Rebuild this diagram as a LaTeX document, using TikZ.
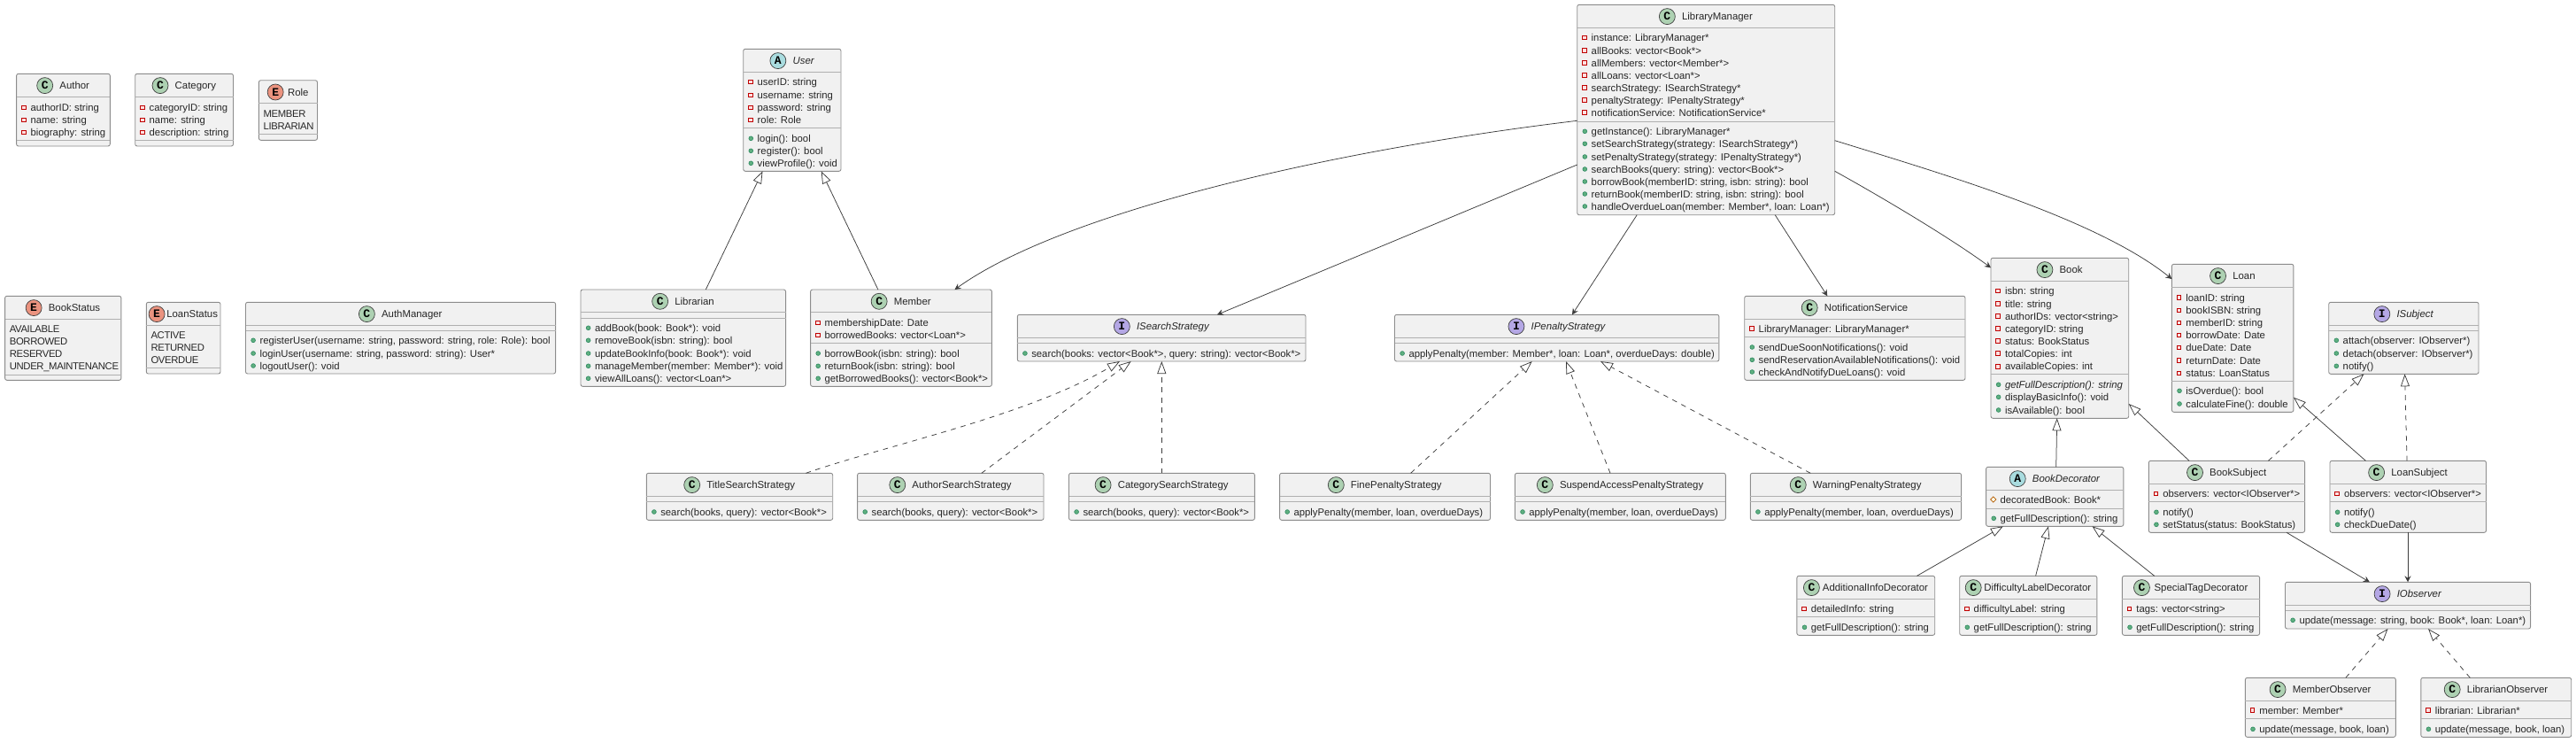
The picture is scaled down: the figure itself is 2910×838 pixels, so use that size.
\documentclass[tikz,border=0pt]{standalone}
\usepackage{fontspec}
\setmainfont{Liberation Sans}[Ligatures=NoCommon]
\newfontfamily\BadgeFont{Liberation Mono}
\newfontfamily\CapsFont{Liberation Sans}[LetterSpace=-3]
\usepackage{xcolor}
\definecolor{BoxFill}{RGB}{241,241,241}
\definecolor{BoxLine}{RGB}{140,140,140}
\definecolor{SepLine}{RGB}{176,176,176}
\definecolor{EdgeCol}{RGB}{60,60,60}
\definecolor{BadgeC}{RGB}{173,209,178}
\definecolor{BadgeA}{RGB}{169,220,223}
\definecolor{BadgeI}{RGB}{180,167,229}
\definecolor{BadgeE}{RGB}{235,147,127}
\definecolor{PubFill}{RGB}{96,176,128}
\definecolor{PubLine}{RGB}{44,136,96}
\usepackage{tikz}
\usetikzlibrary{arrows.meta}
\usetikzlibrary{shapes.geometric}
\tikzstyle{ClassNode}=[rectangle,draw=BoxLine,fill=BoxFill,line width=.9pt,
rounded corners=2.2pt,anchor=north west,outer sep=0pt,inner sep=0pt]
\tikzstyle{BadgeNode}=[circle,draw=black!75,line width=.7pt,minimum size=18pt,
inner sep=0pt,font=\BadgeFont\bfseries\fontsize{13}{13}\selectfont]
\tikzstyle{TitleText}=[anchor=base,inner sep=0pt,text=black!85,
font=\fontsize{11.4}{13}\selectfont]
\tikzstyle{RowText}=[anchor=base west,inner sep=0pt,yshift=-4pt,text=black!85,
font=\fontsize{11.3}{13}\selectfont]
\tikzstyle{EnumText}=[RowText,font=\CapsFont\fontsize{11.3}{13}\selectfont]
\tikzstyle{PrivMark}=[rectangle,draw=red!75!black,fill=red!12,line width=.7pt,
minimum size=4.6pt,inner sep=0pt]
\tikzstyle{PubMark}=[circle,draw=PubLine,fill=PubFill,
line width=.6pt,minimum size=4.8pt,inner sep=0pt]
\tikzstyle{ProtMark}=[diamond,draw=orange!70!black,fill=yellow!10,line width=.7pt,
minimum size=6.5pt,inner sep=0pt]
\tikzstyle{SepEdge}=[draw=SepLine,line width=1pt]
\tikzstyle{Uses}=[draw=EdgeCol,line width=.75pt,
-{Stealth[length=7pt,width=7pt,inset=2.5pt]}]
\tikzstyle{Extends}=[draw=EdgeCol,line width=.75pt,
-{Triangle[open,fill=white,length=14pt,width=10pt]}]
\tikzstyle{Implements}=[Extends,dash pattern=on 5.7pt off 5.7pt]
\newcommand{\ClassBox}[8][7.5]{%
    \node[ClassNode,minimum width=#5pt,minimum height=#6pt](#2)at(#3,#4){};
    \node[TitleText](#2-t)at([yshift=-17.6pt]#2.north){\hspace*{18pt}\hspace*{#1pt}#8};
    \node[BadgeNode,fill=Badge#7](#2-b)at([xshift=9pt,yshift=4.3pt]#2-t.base west){#7};
}
\newcommand{\SepLn}[2]{\draw[SepEdge](#1.west |- 0,#2)--(#1.east |- 0,#2);}
\newcommand{\Priv}[4]{%
    \node[PrivMark](#1-m#2)at([xshift=8.1pt]#1.west |- 0,#3){};
    \node[RowText](#1-r#2)at([xshift=15.8pt]#1.west |- 0,#3){#4};}
\newcommand{\Pub}[4]{%
    \node[PubMark](#1-m#2)at([xshift=8.6pt]#1.west |- 0,#3){};
    \node[RowText](#1-r#2)at([xshift=15.8pt]#1.west |- 0,#3){#4};}
\newcommand{\Prot}[4]{%
    \node[ProtMark](#1-m#2)at([xshift=8.1pt]#1.west |- 0,#3){};
    \node[RowText](#1-r#2)at([xshift=15.8pt]#1.west |- 0,#3){#4};}
\newcommand{\Enm}[4]{\node[EnumText](#1-r#2)at([xshift=5pt]#1.west |- 0,#3){#4};}
\begin{document}
\begin{tikzpicture}[x=1pt,y=-1pt]
    \useasboundingbox(0,0)rectangle(2910,838);
    \ClassBox{Author}{18.6}{83.3}{105.7}{81.7}{C}{Author}
    \SepLn{Author}{109.3}\SepLn{Author}{158.7}
    \Priv{Author}{1}{121.3}{authorID: string}
    \Priv{Author}{2}{135.3}{name: string}
    \Priv{Author}{3}{149.3}{biography: string}
    \ClassBox{Category}{152.7}{83.3}{110.8}{81.7}{C}{Category}
    \SepLn{Category}{109.3}\SepLn{Category}{158.7}
    \Priv{Category}{1}{121.3}{categoryID: string}
    \Priv{Category}{2}{135.3}{name: string}
    \Priv{Category}{3}{149.3}{description: string}
    \ClassBox[4.7]{Role}{292.4}{90.7}{66.1}{67.6}{E}{Role}
    \SepLn{Role}{116.7}\SepLn{Role}{151.3}
    \Enm{Role}{1}{128.3}{MEMBER}
    \Enm{Role}{2}{142.3}{LIBRARIAN}
    \ClassBox{BookStatus}{5.6}{334.3}{131.3}{95}{E}{BookStatus}
    \SepLn{BookStatus}{360.3}\SepLn{BookStatus}{423.3}
    \Enm{BookStatus}{1}{371}{AVAILABLE}
    \Enm{BookStatus}{2}{385}{BORROWED}
    \Enm{BookStatus}{3}{399}{RESERVED}
    \Enm{BookStatus}{4}{413.7}{UNDER\_MAINTENANCE}
    \ClassBox[2]{LoanStatus}{165.3}{341.3}{83.7}{80.7}{E}{LoanStatus}
    \SepLn{LoanStatus}{367}\SepLn{LoanStatus}{415.7}
    \Enm{LoanStatus}{1}{378.3}{ACTIVE}
    \Enm{LoanStatus}{2}{392.3}{RETURNED}
    \Enm{LoanStatus}{3}{406.3}{OVERDUE}
    \ClassBox{AuthManager}{277.5}{341.3}{350.1}{80.7}{C}{AuthManager}
    \SepLn{AuthManager}{367}\SepLn{AuthManager}{373}
    \Pub{AuthManager}{1}{384.3}{registerUser(username: string, password: string, role: Role): bool}
    \Pub{AuthManager}{2}{399}{loginUser(username: string, password: string): User*}
    \Pub{AuthManager}{3}{413}{logoutUser(): void}
    \ClassBox{User}{839.7}{55.3}{110.3}{138}{A}{\itshape User}
    \SepLn{User}{81.3}\SepLn{User}{144.3}
    \Priv{User}{1}{92.3}{userID: string}
    \Priv{User}{2}{107.3}{username: string}
    \Priv{User}{3}{121.3}{password: string}
    \Priv{User}{4}{135.3}{role: Role}
    \Pub{User}{5}{156.3}{login(): bool}
    \Pub{User}{6}{170.3}{register(): bool}
    \Pub{User}{7}{184.3}{viewProfile(): void}
    \ClassBox{Librarian}{656}{327}{231.6}{109.3}{C}{Librarian}
    \SepLn{Librarian}{352.7}\SepLn{Librarian}{359.3}
    \Pub{Librarian}{1}{370.3}{addBook(book: Book*): void}
    \Pub{Librarian}{2}{384.3}{removeBook(isbn: string): bool}
    \Pub{Librarian}{3}{399}{updateBookInfo(book: Book*): void}
    \Pub{Librarian}{4}{413.3}{manageMember(member: Member*): void}
    \Pub{Librarian}{5}{427.3}{viewAllLoans(): vector<Loan*>}
    \ClassBox{Member}{915.6}{327}{204.8}{109.3}{C}{Member}
    \SepLn{Member}{352.7}\SepLn{Member}{387.7}
    \Priv{Member}{1}{364.3}{membershipDate: Date}
    \Priv{Member}{2}{378.3}{borrowedBooks: vector<Loan*>}
    \Pub{Member}{3}{399}{borrowBook(isbn: string): bool}
    \Pub{Member}{4}{413.3}{returnBook(isbn: string): bool}
    \Pub{Member}{5}{427.3}{getBorrowedBooks(): vector<Book*>}
    \ClassBox{ISearchStrategy}{1149.3}{355.3}{325.7}{52.7}{I}{\itshape ISearchStrategy}
    \SepLn{ISearchStrategy}{381}\SepLn{ISearchStrategy}{387.3}
    \Pub{ISearchStrategy}{1}{399}{search(books: vector<Book*>, query: string): vector<Book*>}
    \ClassBox{IPenaltyStrategy}{1575.5}{355.3}{366.4}{52.7}{I}{\itshape IPenaltyStrategy}
    \SepLn{IPenaltyStrategy}{381}\SepLn{IPenaltyStrategy}{387.3}
    \Pub{IPenaltyStrategy}{1}{399}{applyPenalty(member: Member*, loan: Loan*, overdueDays: double)}
    \ClassBox{LibraryManager}{1781.7}{5.3}{291}{237.4}{C}{LibraryManager}
    \SepLn{LibraryManager}{31.7}\SepLn{LibraryManager}{137}
    \Priv{LibraryManager}{1}{42.3}{instance: LibraryManager*}
    \Priv{LibraryManager}{2}{57}{allBooks: vector<Book*>}
    \Priv{LibraryManager}{3}{71}{allMembers: vector<Member*>}
    \Priv{LibraryManager}{4}{85}{allLoans: vector<Loan*>}
    \Priv{LibraryManager}{5}{99}{searchStrategy: ISearchStrategy*}
    \Priv{LibraryManager}{6}{113}{penaltyStrategy: IPenaltyStrategy*}
    \Priv{LibraryManager}{7}{127}{notificationService: NotificationService*}
    \Pub{LibraryManager}{8}{148.3}{getInstance(): LibraryManager*}
    \Pub{LibraryManager}{9}{162.3}{setSearchStrategy(strategy: ISearchStrategy*)}
    \Pub{LibraryManager}{10}{177}{setPenaltyStrategy(strategy: IPenaltyStrategy*)}
    \Pub{LibraryManager}{11}{191}{searchBooks(query: string): vector<Book*>}
    \Pub{LibraryManager}{12}{205}{borrowBook(memberID: string, isbn: string): bool}
    \Pub{LibraryManager}{13}{219}{returnBook(memberID: string, isbn: string): bool}
    \Pub{LibraryManager}{14}{233}{handleOverdueLoan(member: Member*, loan: Loan*)}
    \ClassBox{NotificationService}{1970.7}{334.3}{249.3}{95}{C}{NotificationService}
    \SepLn{NotificationService}{360}\SepLn{NotificationService}{380.3}
    \Priv{NotificationService}{1}{371}{LibraryManager: LibraryManager*}
    \Pub{NotificationService}{2}{392}{sendDueSoonNotifications(): void}
    \Pub{NotificationService}{3}{406.3}{sendReservationAvailableNotifications(): void}
    \Pub{NotificationService}{4}{420}{checkAndNotifyDueLoans(): void}
    \ClassBox{Book}{2249}{291.3}{155.7}{181}{C}{Book}
    \SepLn{Book}{317.3}\SepLn{Book}{422.7}
    \Priv{Book}{1}{328.3}{isbn: string}
    \Priv{Book}{2}{343}{title: string}
    \Priv{Book}{3}{357}{authorIDs: vector<string>}
    \Priv{Book}{4}{371}{categoryID: string}
    \Priv{Book}{5}{385}{status: BookStatus}
    \Priv{Book}{6}{399}{totalCopies: int}
    \Priv{Book}{7}{413.7}{availableCopies: int}
    \Pub{Book}{8}{434.3}{\itshape getFullDescription(): string}
    \Pub{Book}{9}{448.3}{displayBasicInfo(): void}
    \Pub{Book}{10}{463}{isAvailable(): bool}
    \ClassBox{Loan}{2453.4}{298.3}{137.5}{167}{C}{Loan}
    \SepLn{Loan}{324.3}\SepLn{Loan}{430}
    \Priv{Loan}{1}{336}{loanID: string}
    \Priv{Loan}{2}{350.3}{bookISBN: string}
    \Priv{Loan}{3}{364.3}{memberID: string}
    \Priv{Loan}{4}{378.3}{borrowDate: Date}
    \Priv{Loan}{5}{392.3}{dueDate: Date}
    \Priv{Loan}{6}{407}{returnDate: Date}
    \Priv{Loan}{7}{421.3}{status: LoanStatus}
    \Pub{Loan}{8}{441.3}{isOverdue(): bool}
    \Pub{Loan}{9}{456}{calculateFine(): double}
    \ClassBox{ISubject}{2630.7}{341.3}{169.3}{81}{I}{\itshape ISubject}
    \SepLn{ISubject}{367}\SepLn{ISubject}{373.3}
    \Pub{ISubject}{1}{384.3}{attach(observer: IObserver*)}
    \Pub{ISubject}{2}{399}{detach(observer: IObserver*)}
    \Pub{ISubject}{3}{413.3}{notify()}
    \ClassBox{TitleSearchStrategy}{730.3}{534.3}{210.4}{53}{C}{TitleSearchStrategy}
    \SepLn{TitleSearchStrategy}{560.3}\SepLn{TitleSearchStrategy}{566.7}
    \Pub{TitleSearchStrategy}{1}{578}{search(books, query): vector<Book*>}
    \ClassBox{AuthorSearchStrategy}{968.6}{534.3}{210.4}{53}{C}{AuthorSearchStrategy}
    \SepLn{AuthorSearchStrategy}{560.3}\SepLn{AuthorSearchStrategy}{566.7}
    \Pub{AuthorSearchStrategy}{1}{578}{search(books, query): vector<Book*>}
    \ClassBox{CategorySearchStrategy}{1207.5}{534.3}{209.9}{53}{C}{CategorySearchStrategy}
    \SepLn{CategorySearchStrategy}{560.3}\SepLn{CategorySearchStrategy}{566.7}
    \Pub{CategorySearchStrategy}{1}{578}{search(books, query): vector<Book*>}
    \ClassBox{FinePenaltyStrategy}{1445.6}{534.3}{237.9}{53}{C}{FinePenaltyStrategy}
    \SepLn{FinePenaltyStrategy}{560.3}\SepLn{FinePenaltyStrategy}{566.7}
    \Pub{FinePenaltyStrategy}{1}{578}{applyPenalty(member, loan, overdueDays)}
    \ClassBox{SuspendAccessPenaltyStrategy}{1711.4}{534.3}{237.9}{53}{C}{SuspendAccessPenaltyStrategy}
    \SepLn{SuspendAccessPenaltyStrategy}{560.3}\SepLn{SuspendAccessPenaltyStrategy}{566.7}
    \Pub{SuspendAccessPenaltyStrategy}{1}{578}{applyPenalty(member, loan, overdueDays)}
    \ClassBox{WarningPenaltyStrategy}{1977.3}{534.3}{238.3}{53}{C}{WarningPenaltyStrategy}
    \SepLn{WarningPenaltyStrategy}{560.3}\SepLn{WarningPenaltyStrategy}{566.7}
    \Pub{WarningPenaltyStrategy}{1}{578}{applyPenalty(member, loan, overdueDays)}
    \ClassBox{BookDecorator}{2243.6}{527.3}{155.2}{67}{A}{\itshape BookDecorator}
    \SepLn{BookDecorator}{553.7}\SepLn{BookDecorator}{574}
    \Prot{BookDecorator}{1}{564}{decoratedBook: Book*}
    \Pub{BookDecorator}{2}{585.3}{getFullDescription(): string}
    \ClassBox{BookSubject}{2427.3}{520.3}{176.3}{81}{C}{BookSubject}
    \SepLn{BookSubject}{546.3}\SepLn{BookSubject}{566.7}
    \Priv{BookSubject}{1}{557.3}{observers: vector<IObserver*>}
    \Pub{BookSubject}{2}{578.3}{notify()}
    \Pub{BookSubject}{3}{592.3}{setStatus(status: BookStatus)}
    \ClassBox{LoanSubject}{2632}{520.3}{176.5}{81}{C}{LoanSubject}
    \SepLn{LoanSubject}{546.3}\SepLn{LoanSubject}{566.7}
    \Priv{LoanSubject}{1}{557.3}{observers: vector<IObserver*>}
    \Pub{LoanSubject}{2}{578.3}{notify()}
    \Pub{LoanSubject}{3}{592.3}{checkDueDate()}
    \ClassBox[3.3]{AdditionalInfoDecorator}{2029.9}{650.3}{155.8}{67}{C}{AdditionalInfoDecorator}
    \SepLn{AdditionalInfoDecorator}{676}\SepLn{AdditionalInfoDecorator}{696.3}
    \Priv{AdditionalInfoDecorator}{1}{687.3}{detailedInfo: string}
    \Pub{AdditionalInfoDecorator}{2}{708.3}{getFullDescription(): string}
    \ClassBox[3]{DifficultyLabelDecorator}{2213.7}{650.3}{155.2}{67}{C}{DifficultyLabelDecorator}
    \SepLn{DifficultyLabelDecorator}{676}\SepLn{DifficultyLabelDecorator}{696.3}
    \Priv{DifficultyLabelDecorator}{1}{687.3}{difficultyLabel: string}
    \Pub{DifficultyLabelDecorator}{2}{708.3}{getFullDescription(): string}
    \ClassBox[4.9]{SpecialTagDecorator}{2397.4}{650.3}{155.2}{67}{C}{SpecialTagDecorator}
    \SepLn{SpecialTagDecorator}{676}\SepLn{SpecialTagDecorator}{696.3}
    \Priv{SpecialTagDecorator}{1}{687.3}{tags: vector<string>}
    \Pub{SpecialTagDecorator}{2}{708.3}{getFullDescription(): string}
    \ClassBox{IObserver}{2581.5}{657.3}{277.1}{52.7}{I}{\itshape IObserver}
    \SepLn{IObserver}{683}\SepLn{IObserver}{689.3}
    \Pub{IObserver}{1}{700.3}{update(message: string, book: Book*, loan: Loan*)}
    \ClassBox{MemberObserver}{2536.4}{765.3}{169.9}{67}{C}{MemberObserver}
    \SepLn{MemberObserver}{791}\SepLn{MemberObserver}{811.7}
    \Priv{MemberObserver}{1}{802}{member: Member*}
    \Pub{MemberObserver}{2}{823.3}{update(message, book, loan)}
    \ClassBox{LibrarianObserver}{2734.8}{765.3}{169.9}{67}{C}{LibrarianObserver}
    \SepLn{LibrarianObserver}{791}\SepLn{LibrarianObserver}{811.7}
    \Priv{LibrarianObserver}{1}{802}{librarian: Librarian*}
    \Pub{LibrarianObserver}{2}{823.3}{update(message, book, loan)}
    \draw[Extends]([xshift=141.3pt]Librarian.north west)--([xshift=21.8pt]User.south west);
    \draw[Extends]([xshift=76.3pt]Member.north west)--([xshift=88pt]User.south west);
    \draw[Uses]([yshift=-131pt]LibraryManager.north west) .. controls (1500,170) and (1200,240) .. ([xshift=162.9pt]Member.north west);
    \draw[Uses]([yshift=-180.7pt]LibraryManager.north west)--([xshift=225.7pt]ISearchStrategy.north west);
    \draw[Uses]([xshift=67.5pt]LibraryManager.south west)--([xshift=200.5pt]IPenaltyStrategy.north west);
    \draw[Uses]([xshift=223.5pt]LibraryManager.south west)--([xshift=93.6pt]NotificationService.north west);
    \draw[Uses]([yshift=-188pt]LibraryManager.north east) .. controls (2130,225) and (2205,270) .. ([yshift=-11pt]Book.north west);
    \draw[Uses]([yshift=-153.4pt]LibraryManager.north east) .. controls (2200,198) and (2370,248) .. ([yshift=-16.7pt]Loan.north west);
    \draw[Implements]([xshift=180.1pt]TitleSearchStrategy.north west) .. controls (1000,503) and (1160,470) .. ([xshift=115.7pt]ISearchStrategy.south west);
    \draw[Implements]([xshift=140.2pt]AuthorSearchStrategy.north west)--([xshift=128.4pt]ISearchStrategy.south west);
    \draw[Implements]([xshift=104.8pt]CategorySearchStrategy.north west)--([xshift=163pt]ISearchStrategy.south west);
    \draw[Implements]([xshift=148pt]FinePenaltyStrategy.north west)--([xshift=155.2pt]IPenaltyStrategy.south west);
    \draw[Implements]([xshift=107.6pt]SuspendAccessPenaltyStrategy.north west)--([xshift=193.5pt]IPenaltyStrategy.south west);
    \draw[Implements]([xshift=67.9pt]WarningPenaltyStrategy.north west)--([xshift=232.5pt]IPenaltyStrategy.south west);
    \draw[Extends]([xshift=79.1pt]BookDecorator.north west)--([xshift=74.7pt]Book.south west);
    \draw[Extends]([xshift=45.7pt]BookSubject.north west)--([yshift=16.3pt]Book.south east);
    \draw[Extends]([xshift=40.4pt]LoanSubject.north west)--([yshift=16.6pt]Loan.south east);
    \draw[Implements]([xshift=135.1pt]BookSubject.north west)--([xshift=39.7pt]ISubject.south west);
    \draw[Implements]([xshift=87pt]LoanSubject.north west)--([xshift=85.9pt]ISubject.south west);
    \draw[Uses]([xshift=155.7pt]BookSubject.south west)--([xshift=95.3pt]IObserver.north west);
    \draw[Uses]([xshift=88pt]LoanSubject.south west)--([xshift=138.5pt]IObserver.north west);
    \draw[Extends]([xshift=135.6pt]AdditionalInfoDecorator.north west)--([xshift=19.2pt]BookDecorator.south west);
    \draw[Extends]([xshift=85.9pt]DifficultyLabelDecorator.north west)--([xshift=70.3pt]BookDecorator.south west);
    \draw[Extends]([xshift=36.3pt]SpecialTagDecorator.north west)--([xshift=119.9pt]BookDecorator.south west);
    \draw[Implements]([xshift=113.4pt]MemberObserver.north west)--([xshift=116pt]IObserver.south west);
    \draw[Implements]([xshift=55.5pt]LibrarianObserver.north west)--([xshift=161.5pt]IObserver.south west);
\end{tikzpicture}
\end{document}
